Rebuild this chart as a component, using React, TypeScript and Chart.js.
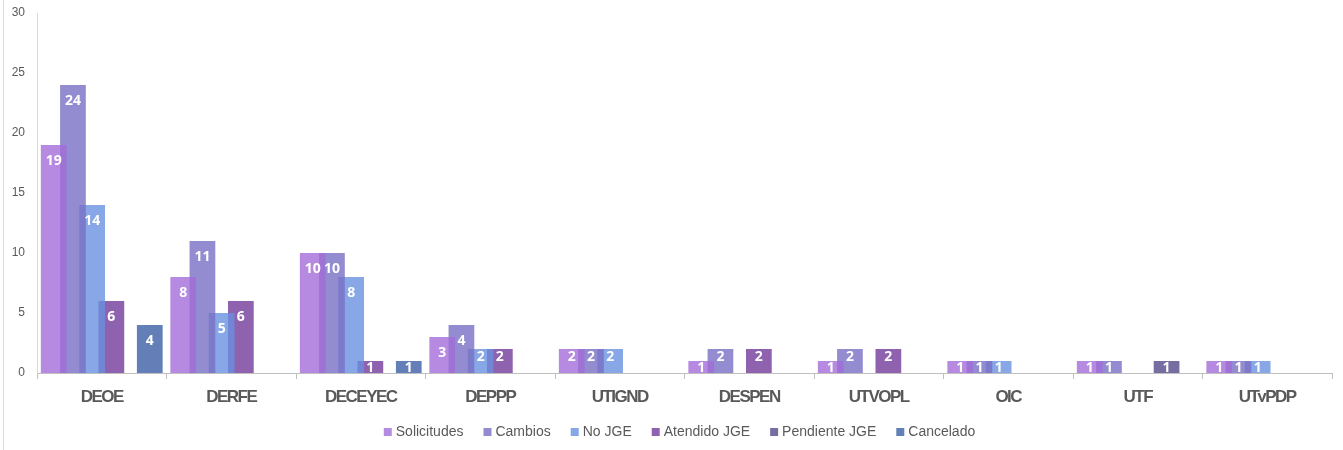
import React, { useEffect, useRef } from "react";
import { Chart, registerables } from "chart.js";

Chart.register(...registerables);

const categories = ["DEOE", "DERFE", "DECEYEC", "DEPPP", "UTIGND", "DESPEN", "UTVOPL", "OIC", "UTF", "UTyPDP"];
const solicitudes = [19, 8, 10, 3, 2, 1, 1, 1, 1, 1];
const cambios = [24, 11, 10, 4, 2, 2, 2, 1, 1, 1];
const noJGE = [14, 5, 8, 2, 2, 0, 0, 1, 0, 1];
const atendidoJGE = [6, 6, 1, 2, 0, 2, 2, 0, 0, 0];
const pendienteJGE = [0, 0, 0, 0, 0, 0, 0, 0, 1, 0];
const cancelado = [4, 0, 1, 0, 0, 0, 0, 0, 0, 0];
const seriesNames = ["Solicitudes", "Cambios", "No JGE", "Atendido JGE", "Pendiente JGE", "Cancelado"];
const seriesValues = [solicitudes, cambios, noJGE, atendidoJGE, pendienteJGE, cancelado];
const seriesColors = [
  "rgba(162,109,216,0.8)",
  "rgba(121,111,196,0.8)",
  "rgba(106,145,224,0.8)",
  "rgba(114,59,154,0.8)",
  "rgba(84,73,136,0.8)",
  "rgba(61,95,166,0.8)",
];
const legendColors = ["#b58ae0", "#948cd0", "#88a7e6", "#8e62ae", "#766da0", "#647fb8"];
const yMax = 30;
const yStep = 5;

const labelPlugin = {
  id: "barLabels",
  afterDatasetsDraw(chart: any) {
    const { ctx, chartArea } = chart;
    ctx.save();
    ctx.beginPath();
    ctx.rect(chartArea.left, chartArea.top, chartArea.right - chartArea.left, chartArea.bottom - chartArea.top);
    ctx.clip();
    ctx.font = "bold 14px 'Open Sans', sans-serif";
    ctx.fillStyle = "#ffffff";
    ctx.textAlign = "center";
    ctx.textBaseline = "middle";
    chart.data.datasets.forEach((ds: any, di: number) => {
      const meta = chart.getDatasetMeta(di);
      meta.data.forEach((el: any, i: number) => {
        const v = ds.data[i];
        if (!v) return;
        const h = el.base - el.y;
        const off = h >= 36 ? 16 : h >= 24 ? 8.5 : 7;
        ctx.fillText(String(v), el.x, el.y + off);
      });
    });
    ctx.restore();
  },
};

const framePlugin = {
  id: "frame",
  afterLayout(chart: any) {
    if (chart.legend) {
      chart.legend.left += 15;
      chart.legend.right += 15;
    }
    const sx = chart.scales.x;
    if (sx && !sx.__wrapped) {
      const orig = sx.drawLabels.bind(sx);
      sx.drawLabels = (ca: any) => {
        const c = chart.ctx;
        c.save();
        c.letterSpacing = "-1.5px";
        orig(ca);
        c.restore();
      };
      sx.__wrapped = true;
    }
  },
  beforeDraw(chart: any) {
    const { ctx, height } = chart;
    ctx.save();
    ctx.strokeStyle = "#d9d9d9";
    ctx.lineWidth = 1;
    ctx.beginPath();
    ctx.moveTo(3.5, 0);
    ctx.lineTo(3.5, height);
    ctx.stroke();
    ctx.restore();
  },
};

export default function App() {
  const ref = useRef<HTMLCanvasElement>(null);
  useEffect(() => {
    if (!ref.current) return;
    const chart = new Chart(ref.current, {
      type: "bar",
      data: {
        labels: categories,
        datasets: seriesNames.map((name, i) => ({
          label: name,
          data: seriesValues[i],
          backgroundColor: seriesColors[i],
          borderWidth: 0,
          categoryPercentage: 0.89,
          barPercentage: 1.34,
        })),
      },
      options: {
        responsive: false,
        animation: false,
        layout: { padding: { left: 0, right: 11, top: 13, bottom: 1 } },
        plugins: {
          tooltip: { enabled: false },
          legend: {
            position: "bottom",
            labels: {
              usePointStyle: true,
              boxWidth: 2,
              boxHeight: 8,
              padding: 23,
              color: "#595959",
              font: { family: "'Liberation Sans', Arial, sans-serif", size: 14 },
              generateLabels: () =>
                seriesNames.map((n, i) => ({
                  text: n,
                  fillStyle: legendColors[i],
                  strokeStyle: legendColors[i],
                  lineWidth: 0,
                  pointStyle: "rect",
                  datasetIndex: i,
                  fontColor: "#595959",
                })),
            },
          },
        },
        scales: {
          x: {
            grid: { display: true, drawOnChartArea: false, drawTicks: true, tickLength: 6, color: "#bfbfbf", offset: true },
            border: { display: true, color: "#bfbfbf", width: 1 },
            ticks: {
              color: "#595959",
              padding: 8,
              maxRotation: 0,
              autoSkip: false,
              font: { family: "'Liberation Sans', Arial, sans-serif", size: 17, weight: "bold" },
            },
            afterFit: (s: any) => { s.height = 29; s.paddingLeft = 0; s.paddingRight = 0; },
          },
          y: {
            min: 0,
            max: yMax,
            grid: { display: false, drawTicks: false },
            border: { display: true, color: "#d9d9d9", width: 1 },
            ticks: { stepSize: yStep, color: "#595959", padding: 12, font: { family: "'Liberation Sans', sans-serif", size: 12 } },
            afterFit: (s: any) => { s.width = 37; s.paddingTop = 0; s.paddingBottom = 0; },
          },
        },
      },
      plugins: [labelPlugin, framePlugin],
    });
    return () => chart.destroy();
  }, []);
  return (
    <div style={{ position: "absolute", left: 0, top: 0, width: 1343, height: 450, background: "#fff" }}>
      <canvas ref={ref} width={1343} height={450} style={{ display: "block" }} />
    </div>
  );
}
